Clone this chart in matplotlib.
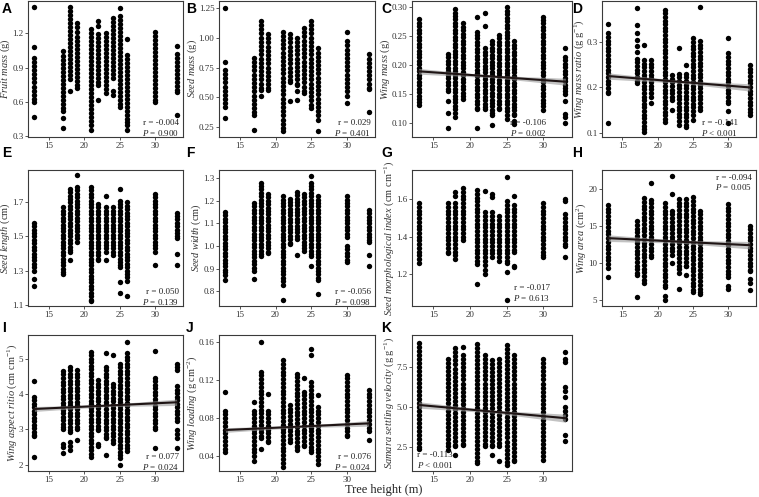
import numpy as np
import matplotlib
matplotlib.use("Agg")
import matplotlib.pyplot as plt

plt.rcParams['font.family'] = ['Liberation Serif', 'DejaVu Serif']
plt.rcParams['mathtext.fontset'] = 'custom'
plt.rcParams['mathtext.rm'] = 'Liberation Serif'
plt.rcParams['mathtext.it'] = 'Liberation Serif:italic'
plt.rcParams['mathtext.bf'] = 'Liberation Serif:bold'

HEIGHTS = [13, 17, 18, 19, 21, 22, 23, 24, 25, 26, 30, 33]

fruit_mass = [
    [1.43, 1.075, 0.98, 0.945, 0.91, 0.875, 0.84, 0.805, 0.77, 0.735, 0.70, 0.665, 0.63, 0.60, 0.47],
    [1.04, 1.005, 0.97, 0.935, 0.90, 0.865, 0.83, 0.795, 0.76, 0.725, 0.69, 0.655, 0.62, 0.585, 0.55, 0.52, 0.46, 0.37],
    [1.43, 1.395, 1.36, 1.325, 1.29, 1.255, 1.22, 1.185, 1.15, 1.115, 1.08, 1.045, 1.01, 0.975, 0.94, 0.905, 0.87, 0.835, 0.80, 0.70],
    [1.29, 1.25, 1.21, 1.17, 1.135, 1.10, 1.065, 1.03, 0.995, 0.96, 0.925, 0.89, 0.855, 0.82, 0.785, 0.75, 0.72],
    [1.24, 1.205, 1.17, 1.135, 1.10, 1.065, 1.03, 0.995, 0.96, 0.925, 0.89, 0.855, 0.82, 0.785, 0.75, 0.715, 0.68, 0.645, 0.61, 0.575, 0.54, 0.505, 0.47, 0.435, 0.40, 0.355],
    [1.31, 1.26, 1.19, 1.155, 1.12, 1.085, 1.05, 1.015, 0.98, 0.945, 0.91, 0.875, 0.84, 0.805, 0.77, 0.75, 0.62],
    [1.20, 1.165, 1.13, 1.095, 1.06, 1.025, 0.99, 0.955, 0.92, 0.885, 0.85, 0.815, 0.78, 0.745, 0.71, 0.68],
    [1.33, 1.295, 1.26, 1.225, 1.19, 1.155, 1.12, 1.085, 1.05, 1.015, 0.98, 0.945, 0.91, 0.875, 0.84, 0.81, 0.70, 0.665],
    [1.42, 1.35, 1.315, 1.28, 1.245, 1.21, 1.175, 1.14, 1.105, 1.07, 1.035, 1.00, 0.965, 0.93, 0.895, 0.86, 0.825, 0.79, 0.755, 0.72, 0.685, 0.65, 0.615, 0.58, 0.56],
    [1.15, 1.01, 0.975, 0.94, 0.905, 0.87, 0.835, 0.80, 0.765, 0.73, 0.695, 0.66, 0.625, 0.59, 0.555, 0.52, 0.485, 0.45, 0.43, 0.40, 0.355],
    [1.21, 1.175, 1.14, 1.105, 1.07, 1.035, 1.00, 0.965, 0.93, 0.895, 0.86, 0.825, 0.79, 0.755, 0.72, 0.685, 0.65, 0.615, 0.60],
    [1.09, 1.02, 0.985, 0.95, 0.915, 0.88, 0.845, 0.81, 0.775, 0.74, 0.705, 0.69, 0.49],
]

seed_mass = [
    [1.25, 0.80, 0.73, 0.695, 0.66, 0.625, 0.59, 0.555, 0.52, 0.485, 0.45, 0.42, 0.33],
    [0.83, 0.795, 0.76, 0.725, 0.69, 0.655, 0.62, 0.585, 0.55, 0.515, 0.48, 0.445, 0.41, 0.375, 0.35, 0.23],
    [1.14, 1.105, 1.07, 1.035, 1.00, 0.965, 0.93, 0.895, 0.86, 0.825, 0.79, 0.755, 0.72, 0.685, 0.65, 0.615, 0.58, 0.56, 0.51],
    [1.03, 0.995, 0.96, 0.925, 0.89, 0.855, 0.82, 0.785, 0.75, 0.715, 0.68, 0.645, 0.61, 0.575, 0.56],
    [1.05, 1.015, 0.98, 0.945, 0.91, 0.875, 0.84, 0.805, 0.77, 0.735, 0.70, 0.665, 0.63, 0.595, 0.56, 0.525, 0.49, 0.455, 0.42, 0.385, 0.35, 0.315, 0.28, 0.245, 0.22],
    [1.03, 0.995, 0.96, 0.925, 0.89, 0.855, 0.82, 0.785, 0.75, 0.715, 0.68, 0.645, 0.63, 0.47],
    [1.00, 0.965, 0.93, 0.895, 0.86, 0.825, 0.79, 0.755, 0.72, 0.685, 0.65, 0.615, 0.60, 0.555, 0.48],
    [1.08, 1.045, 1.01, 0.975, 0.94, 0.905, 0.87, 0.835, 0.80, 0.765, 0.73, 0.695, 0.66, 0.625, 0.59, 0.555, 0.54],
    [1.14, 1.105, 1.07, 1.035, 1.00, 0.965, 0.93, 0.895, 0.86, 0.825, 0.79, 0.755, 0.72, 0.685, 0.65, 0.615, 0.58, 0.545, 0.51, 0.475, 0.44, 0.41],
    [0.91, 0.875, 0.84, 0.805, 0.77, 0.735, 0.70, 0.665, 0.63, 0.595, 0.56, 0.525, 0.49, 0.455, 0.42, 0.385, 0.35, 0.315, 0.22],
    [1.05, 0.97, 0.935, 0.90, 0.865, 0.83, 0.795, 0.76, 0.725, 0.69, 0.655, 0.62, 0.585, 0.55, 0.515, 0.45],
    [0.86, 0.825, 0.79, 0.755, 0.72, 0.685, 0.65, 0.615, 0.58, 0.57, 0.38],
]

wing_mass = [
    [0.279, 0.273, 0.267, 0.261, 0.255, 0.249, 0.243, 0.237, 0.231, 0.225, 0.219, 0.213, 0.207, 0.201, 0.195, 0.189, 0.183, 0.177, 0.171, 0.165, 0.159, 0.153, 0.147, 0.141, 0.135, 0.131],
    [0.219, 0.213, 0.207, 0.201, 0.195, 0.189, 0.183, 0.177, 0.171, 0.165, 0.159, 0.155, 0.137, 0.117, 0.090],
    [0.297, 0.291, 0.285, 0.279, 0.273, 0.267, 0.261, 0.255, 0.249, 0.243, 0.237, 0.231, 0.225, 0.219, 0.213, 0.207, 0.201, 0.195, 0.189, 0.183, 0.177, 0.171, 0.165, 0.159, 0.153, 0.147, 0.141, 0.135, 0.129, 0.123, 0.117, 0.110],
    [0.272, 0.266, 0.260, 0.254, 0.248, 0.242, 0.236, 0.230, 0.224, 0.218, 0.212, 0.206, 0.200, 0.194, 0.188, 0.182, 0.176, 0.170, 0.164, 0.158, 0.152, 0.146, 0.141],
    [0.284, 0.258, 0.252, 0.246, 0.240, 0.234, 0.228, 0.222, 0.216, 0.210, 0.204, 0.198, 0.192, 0.186, 0.180, 0.174, 0.168, 0.162, 0.156, 0.150, 0.144, 0.138, 0.132, 0.126, 0.124, 0.090],
    [0.290, 0.267, 0.229, 0.223, 0.217, 0.211, 0.205, 0.199, 0.193, 0.187, 0.181, 0.175, 0.169, 0.163, 0.157, 0.151, 0.145, 0.139, 0.133, 0.127, 0.124],
    [0.242, 0.236, 0.230, 0.224, 0.218, 0.212, 0.206, 0.200, 0.194, 0.188, 0.182, 0.176, 0.170, 0.164, 0.158, 0.152, 0.146, 0.140, 0.134, 0.128, 0.122, 0.116, 0.113, 0.096],
    [0.252, 0.246, 0.240, 0.234, 0.228, 0.222, 0.216, 0.210, 0.204, 0.198, 0.192, 0.186, 0.180, 0.174, 0.168, 0.162, 0.156, 0.150, 0.144, 0.138, 0.132, 0.126, 0.124],
    [0.300, 0.294, 0.288, 0.282, 0.276, 0.270, 0.264, 0.258, 0.252, 0.246, 0.240, 0.234, 0.228, 0.222, 0.216, 0.210, 0.204, 0.198, 0.192, 0.186, 0.180, 0.174, 0.168, 0.162, 0.156, 0.150, 0.144, 0.138, 0.132, 0.126, 0.120, 0.114, 0.107],
    [0.241, 0.235, 0.229, 0.223, 0.217, 0.211, 0.205, 0.199, 0.193, 0.187, 0.181, 0.175, 0.169, 0.163, 0.157, 0.151, 0.145, 0.139, 0.133, 0.127, 0.121, 0.115, 0.113, 0.103, 0.097],
    [0.284, 0.278, 0.272, 0.266, 0.260, 0.254, 0.248, 0.242, 0.236, 0.230, 0.224, 0.218, 0.212, 0.206, 0.200, 0.194, 0.188, 0.182, 0.176, 0.170, 0.164, 0.158, 0.152, 0.146, 0.140, 0.134, 0.128, 0.122],
    [0.229, 0.214, 0.208, 0.202, 0.196, 0.190, 0.184, 0.178, 0.172, 0.166, 0.160, 0.154, 0.150, 0.138, 0.115, 0.110, 0.100],
]

wing_mass_ratio = [
    [0.340, 0.319, 0.311, 0.303, 0.295, 0.287, 0.279, 0.271, 0.263, 0.255, 0.247, 0.239, 0.231, 0.223, 0.215, 0.207, 0.199, 0.191, 0.187, 0.122],
    [0.375, 0.338, 0.319, 0.305, 0.291, 0.277, 0.263, 0.255, 0.247, 0.239, 0.231, 0.223, 0.215, 0.209],
    [0.293, 0.260, 0.252, 0.244, 0.236, 0.228, 0.220, 0.212, 0.204, 0.196, 0.188, 0.180, 0.172, 0.164, 0.156, 0.148, 0.140, 0.132, 0.124, 0.116, 0.108, 0.103],
    [0.260, 0.252, 0.244, 0.236, 0.228, 0.220, 0.212, 0.204, 0.196, 0.188, 0.180, 0.165],
    [0.371, 0.363, 0.355, 0.347, 0.339, 0.331, 0.323, 0.315, 0.307, 0.299, 0.291, 0.283, 0.275, 0.267, 0.259, 0.251, 0.243, 0.235, 0.227, 0.219, 0.211, 0.203, 0.195, 0.187, 0.179, 0.171, 0.163, 0.155, 0.147, 0.139, 0.131, 0.123],
    [0.227, 0.219, 0.211, 0.203, 0.195, 0.187, 0.179, 0.172, 0.150],
    [0.287, 0.230, 0.222, 0.214, 0.206, 0.198, 0.190, 0.182, 0.174, 0.166, 0.158, 0.150, 0.142, 0.134, 0.126, 0.118],
    [0.249, 0.230, 0.222, 0.214, 0.206, 0.198, 0.190, 0.182, 0.174, 0.166, 0.158, 0.150, 0.142, 0.134, 0.126, 0.118, 0.114],
    [0.308, 0.300, 0.292, 0.284, 0.276, 0.268, 0.260, 0.252, 0.244, 0.236, 0.228, 0.220, 0.212, 0.204, 0.196, 0.188, 0.180, 0.172, 0.164, 0.156, 0.148, 0.140, 0.128],
    [0.376, 0.302, 0.294, 0.286, 0.278, 0.270, 0.262, 0.254, 0.246, 0.238, 0.230, 0.222, 0.214, 0.206, 0.198, 0.190, 0.182, 0.174, 0.166, 0.158, 0.150],
    [0.308, 0.275, 0.267, 0.259, 0.251, 0.243, 0.235, 0.227, 0.219, 0.211, 0.203, 0.195, 0.187, 0.179, 0.171, 0.165, 0.149, 0.122],
    [0.249, 0.241, 0.233, 0.225, 0.217, 0.209, 0.201, 0.193, 0.185, 0.177, 0.169, 0.161, 0.153, 0.145, 0.139],
]

seed_length = [
    [1.58, 1.56, 1.54, 1.52, 1.50, 1.48, 1.46, 1.44, 1.42, 1.40, 1.38, 1.36, 1.34, 1.32, 1.30, 1.25, 1.21],
    [1.67, 1.65, 1.63, 1.61, 1.59, 1.57, 1.55, 1.53, 1.51, 1.49, 1.47, 1.45, 1.43, 1.41, 1.39, 1.37, 1.35, 1.33, 1.31, 1.29, 1.28],
    [1.78, 1.76, 1.74, 1.72, 1.70, 1.68, 1.66, 1.64, 1.62, 1.60, 1.58, 1.56, 1.54, 1.52, 1.50, 1.48, 1.46, 1.44, 1.42, 1.41, 1.36],
    [1.86, 1.79, 1.77, 1.75, 1.73, 1.71, 1.69, 1.67, 1.65, 1.63, 1.61, 1.59, 1.57, 1.55, 1.53, 1.51, 1.49, 1.47],
    [1.79, 1.77, 1.75, 1.73, 1.71, 1.69, 1.67, 1.65, 1.63, 1.61, 1.59, 1.57, 1.55, 1.53, 1.51, 1.49, 1.47, 1.45, 1.43, 1.41, 1.39, 1.37, 1.35, 1.33, 1.31, 1.29, 1.27, 1.25, 1.23, 1.21, 1.19, 1.17, 1.15, 1.13, 1.12],
    [1.69, 1.67, 1.65, 1.63, 1.61, 1.59, 1.57, 1.55, 1.53, 1.51, 1.49, 1.47, 1.45, 1.43, 1.41, 1.39, 1.37, 1.36],
    [1.74, 1.67, 1.65, 1.63, 1.61, 1.59, 1.57, 1.55, 1.53, 1.51, 1.49, 1.47, 1.45, 1.43, 1.41, 1.36],
    [1.67, 1.65, 1.63, 1.61, 1.59, 1.57, 1.55, 1.53, 1.51, 1.49, 1.47, 1.45, 1.43, 1.41, 1.39],
    [1.78, 1.71, 1.69, 1.67, 1.65, 1.63, 1.61, 1.59, 1.57, 1.55, 1.53, 1.51, 1.49, 1.47, 1.45, 1.43, 1.41, 1.39, 1.37, 1.35, 1.33, 1.32, 1.23, 1.17],
    [1.70, 1.68, 1.66, 1.64, 1.62, 1.60, 1.58, 1.56, 1.54, 1.52, 1.50, 1.48, 1.46, 1.44, 1.42, 1.40, 1.38, 1.36, 1.34, 1.32, 1.30, 1.28, 1.26, 1.24, 1.15],
    [1.75, 1.73, 1.71, 1.69, 1.67, 1.65, 1.63, 1.61, 1.59, 1.57, 1.55, 1.53, 1.51, 1.49, 1.47, 1.45, 1.43, 1.41, 1.33],
    [1.64, 1.62, 1.60, 1.58, 1.56, 1.54, 1.52, 1.50, 1.49, 1.40, 1.33],
]

seed_width = [
    [1.15, 1.135, 1.12, 1.105, 1.09, 1.075, 1.06, 1.045, 1.03, 1.015, 1.00, 0.985, 0.97, 0.955, 0.94, 0.925, 0.91, 0.895, 0.885, 0.87, 0.85],
    [1.19, 1.175, 1.16, 1.145, 1.13, 1.115, 1.10, 1.085, 1.07, 1.055, 1.04, 1.025, 1.01, 0.995, 0.98, 0.965, 0.95, 0.935, 0.92, 0.905, 0.89, 0.855],
    [1.28, 1.265, 1.25, 1.235, 1.22, 1.205, 1.19, 1.175, 1.16, 1.145, 1.13, 1.115, 1.10, 1.085, 1.07, 1.055, 1.04, 1.025, 1.01, 0.995, 0.98, 0.965, 0.955],
    [1.23, 1.215, 1.20, 1.185, 1.17, 1.155, 1.14, 1.125, 1.11, 1.095, 1.08, 1.065, 1.05, 1.035, 1.02, 1.005, 0.99, 0.975, 0.97],
    [1.22, 1.205, 1.19, 1.175, 1.16, 1.145, 1.13, 1.115, 1.10, 1.085, 1.07, 1.055, 1.04, 1.025, 1.01, 0.995, 0.98, 0.965, 0.95, 0.935, 0.92, 0.905, 0.89, 0.875, 0.86, 0.845, 0.83, 0.76],
    [1.21, 1.195, 1.18, 1.165, 1.15, 1.135, 1.12, 1.105, 1.09, 1.075, 1.06, 1.045, 1.03, 1.015, 1.01],
    [1.24, 1.225, 1.21, 1.195, 1.18, 1.165, 1.15, 1.135, 1.12, 1.105, 1.09, 1.075, 1.06, 1.045, 1.03, 0.96],
    [1.23, 1.215, 1.20, 1.185, 1.17, 1.155, 1.14, 1.125, 1.11, 1.095, 1.08, 1.065, 1.05, 1.035, 1.02, 1.005, 0.99, 0.98],
    [1.31, 1.28, 1.265, 1.25, 1.235, 1.22, 1.205, 1.19, 1.175, 1.16, 1.145, 1.13, 1.115, 1.10, 1.085, 1.07, 1.055, 1.04, 1.025, 1.01, 0.995, 0.98, 0.965, 0.955, 0.91],
    [1.22, 1.205, 1.19, 1.175, 1.16, 1.145, 1.13, 1.115, 1.10, 1.085, 1.07, 1.055, 1.04, 1.025, 1.01, 0.995, 0.98, 0.965, 0.95, 0.935, 0.92, 0.905, 0.89, 0.875, 0.86, 0.85, 0.79],
    [1.22, 1.205, 1.19, 1.175, 1.16, 1.145, 1.13, 1.115, 1.10, 1.085, 1.07, 1.055, 1.04, 1.00, 0.985, 0.97, 0.955, 0.94, 0.93],
    [1.16, 1.145, 1.13, 1.115, 1.10, 1.085, 1.07, 1.055, 1.04, 1.025, 1.02, 0.96, 0.91],
]

seed_morph_index = [
    [1.58, 1.56, 1.54, 1.52, 1.50, 1.48, 1.46, 1.44, 1.42, 1.40, 1.38, 1.36, 1.34, 1.32, 1.30, 1.28, 1.26],
    [1.58, 1.56, 1.54, 1.52, 1.50, 1.48, 1.46, 1.44, 1.42, 1.40, 1.38, 1.36, 1.34, 1.32, 1.31],
    [1.64, 1.62, 1.58, 1.56, 1.54, 1.52, 1.50, 1.48, 1.46, 1.44, 1.42, 1.40, 1.38, 1.36, 1.34, 1.32, 1.30, 1.28],
    [1.66, 1.64, 1.62, 1.60, 1.58, 1.56, 1.54, 1.52, 1.50, 1.48, 1.46, 1.44, 1.42, 1.40, 1.38],
    [1.65, 1.63, 1.61, 1.59, 1.57, 1.55, 1.53, 1.51, 1.49, 1.47, 1.45, 1.43, 1.41, 1.39, 1.37, 1.35, 1.33, 1.31, 1.29, 1.27, 1.255, 1.145],
    [1.645, 1.53, 1.51, 1.49, 1.47, 1.45, 1.43, 1.41, 1.39, 1.37, 1.35, 1.33, 1.31, 1.29, 1.27, 1.25, 1.22, 1.20],
    [1.63, 1.615, 1.53, 1.51, 1.49, 1.47, 1.45, 1.43, 1.41, 1.39, 1.37, 1.35, 1.33, 1.31, 1.29],
    [1.51, 1.49, 1.47, 1.45, 1.43, 1.41, 1.39, 1.37, 1.35, 1.33, 1.31, 1.29, 1.27],
    [1.72, 1.59, 1.57, 1.55, 1.53, 1.51, 1.49, 1.47, 1.45, 1.43, 1.41, 1.39, 1.37, 1.35, 1.33, 1.31, 1.29, 1.27, 1.26, 1.21, 1.06],
    [1.62, 1.57, 1.55, 1.53, 1.51, 1.49, 1.47, 1.45, 1.43, 1.41, 1.39, 1.37, 1.35, 1.33, 1.32, 1.245, 1.235],
    [1.58, 1.56, 1.54, 1.52, 1.50, 1.48, 1.46, 1.44, 1.42, 1.40, 1.38, 1.36, 1.34, 1.32, 1.30, 1.29],
    [1.60, 1.59, 1.52, 1.50, 1.48, 1.46, 1.44, 1.42, 1.40, 1.38, 1.36, 1.35, 1.29],
]

wing_area = [
    [17.8, 17.3, 16.8, 16.3, 15.8, 15.3, 14.8, 14.3, 13.8, 13.3, 12.8, 12.3, 11.8, 11.3, 10.8, 10.3, 9.8, 9.3, 8.0],
    [15.6, 15.1, 14.6, 14.1, 13.6, 13.1, 12.6, 12.1, 11.6, 11.1, 10.6, 10.1, 9.6, 9.1, 8.6, 8.3, 5.3],
    [18.7, 18.2, 17.7, 17.2, 16.7, 16.2, 15.7, 15.2, 14.7, 14.2, 13.7, 13.2, 12.7, 12.2, 11.7, 11.2, 10.7, 10.2, 9.7, 9.2, 8.7, 8.2, 7.7, 7.3],
    [20.8, 18.5, 18.0, 17.5, 17.0, 16.5, 16.0, 15.5, 15.0, 14.5, 14.0, 13.5, 13.0, 12.5, 12.0, 11.5, 11.0, 10.7],
    [18.0, 17.5, 17.0, 16.5, 16.0, 15.5, 15.0, 14.5, 14.0, 13.5, 13.0, 12.5, 12.0, 11.5, 11.0, 10.5, 10.0, 9.5, 9.0, 8.5, 8.0, 7.5, 7.0, 6.7, 5.5, 5.0],
    [21.7, 19.2, 17.0, 16.5, 16.0, 15.5, 15.0, 14.5, 14.0, 13.5, 13.0, 12.5, 12.0, 11.5, 11.0, 9.9],
    [18.6, 18.1, 17.6, 17.1, 16.6, 16.1, 15.6, 15.1, 14.6, 14.1, 13.6, 13.1, 12.6, 12.1, 11.6, 11.1, 10.6, 10.1, 9.6, 9.1, 8.6, 6.4],
    [18.6, 18.1, 17.6, 17.1, 16.6, 16.1, 15.6, 15.1, 14.6, 14.1, 13.6, 13.1, 12.6, 12.1, 11.6, 11.1, 10.6, 10.1, 9.6, 9.5, 8.3],
    [18.8, 18.3, 17.8, 17.3, 16.8, 16.3, 15.8, 15.3, 14.8, 14.3, 13.8, 13.3, 12.8, 12.3, 11.8, 11.3, 10.8, 10.3, 9.8, 9.3, 8.8, 8.3, 7.8, 7.3, 6.8, 6.3, 6.0],
    [17.0, 16.5, 16.0, 15.5, 15.0, 14.5, 14.0, 13.5, 13.0, 12.5, 12.0, 11.5, 11.0, 10.5, 10.0, 9.5, 9.0, 8.5, 8.0, 7.5, 7.0, 6.5, 6.0, 5.7],
    [17.9, 17.4, 16.9, 16.4, 15.9, 15.4, 14.9, 14.4, 13.9, 13.4, 12.9, 12.4, 11.9, 11.4, 10.9, 10.4, 9.9, 9.4, 8.9, 8.4, 8.1, 6.8, 6.5],
    [15.0, 14.5, 14.0, 13.5, 13.0, 12.5, 12.0, 11.5, 11.0, 10.5, 10.0, 9.5, 9.0, 8.8, 7.8, 7.3, 6.3],
]

wing_aspect_ratio = [
    [4.38, 3.93, 3.83, 3.73, 3.63, 3.53, 3.43, 3.33, 3.23, 3.13, 3.03, 2.93, 2.83, 2.80, 2.21],
    [4.66, 4.56, 4.46, 4.36, 4.26, 4.16, 4.06, 3.96, 3.86, 3.76, 3.66, 3.56, 3.46, 3.36, 3.26, 3.16, 3.06, 3.02, 2.60, 2.50, 2.33],
    [4.78, 4.68, 4.58, 4.48, 4.38, 4.28, 4.18, 4.08, 3.98, 3.88, 3.78, 3.68, 3.58, 3.48, 3.38, 3.28, 3.18, 3.08, 2.98, 2.92, 2.63, 2.52, 2.42],
    [4.68, 4.58, 4.48, 4.38, 4.28, 4.18, 4.08, 3.98, 3.88, 3.78, 3.68, 3.58, 3.48, 3.38, 3.28, 3.18, 3.08, 3.00, 2.70],
    [5.21, 5.11, 5.01, 4.91, 4.81, 4.71, 4.61, 4.51, 4.41, 4.31, 4.21, 4.11, 4.01, 3.91, 3.81, 3.71, 3.61, 3.51, 3.41, 3.31, 3.21, 3.11, 3.01, 2.91, 2.81, 2.71, 2.61, 2.51, 2.41, 2.31, 2.22],
    [4.40, 4.30, 4.20, 4.10, 4.00, 3.90, 3.80, 3.70, 3.60, 3.50, 3.40, 3.30, 3.20, 3.10, 3.00, 2.97, 2.60, 2.52],
    [5.16, 4.78, 4.68, 4.58, 4.48, 4.38, 4.28, 4.18, 4.08, 3.98, 3.88, 3.78, 3.68, 3.58, 3.48, 3.38, 3.28, 3.18, 3.08, 2.98, 2.88, 2.78, 2.75, 2.28],
    [5.12, 4.30, 4.20, 4.10, 4.00, 3.90, 3.80, 3.70, 3.60, 3.50, 3.40, 3.30, 3.20, 3.10, 3.00, 2.90, 2.80, 2.70, 2.62],
    [4.87, 4.77, 4.67, 4.57, 4.47, 4.37, 4.27, 4.17, 4.07, 3.97, 3.87, 3.77, 3.67, 3.57, 3.47, 3.37, 3.27, 3.17, 3.07, 2.97, 2.87, 2.77, 2.67, 2.57, 2.47, 2.37, 2.27, 2.20, 2.00],
    [5.49, 5.16, 5.06, 4.96, 4.86, 4.76, 4.66, 4.56, 4.46, 4.36, 4.26, 4.16, 4.06, 3.96, 3.86, 3.76, 3.66, 3.56, 3.46, 3.36, 3.26, 3.16, 3.06, 2.96, 2.86, 2.76, 2.66, 2.56, 2.48, 2.38],
    [5.24, 4.47, 4.37, 4.27, 4.17, 4.07, 3.97, 3.87, 3.77, 3.67, 3.57, 3.47, 3.37, 3.27, 3.17, 3.07, 3.02, 2.48],
    [4.87, 4.77, 4.70, 4.23, 4.13, 4.03, 3.93, 3.83, 3.73, 3.63, 3.53, 3.43, 3.33, 3.24, 2.98, 2.88, 2.75, 2.48],
]

wing_loading = [
    [0.108, 0.088, 0.084, 0.080, 0.076, 0.072, 0.068, 0.064, 0.060, 0.056, 0.052, 0.048, 0.044],
    [0.097, 0.088, 0.084, 0.080, 0.076, 0.072, 0.068, 0.064, 0.060, 0.056, 0.052, 0.048, 0.044, 0.040, 0.035],
    [0.160, 0.129, 0.125, 0.121, 0.117, 0.113, 0.109, 0.105, 0.101, 0.097, 0.093, 0.089, 0.085, 0.081, 0.077, 0.073, 0.069, 0.065, 0.061, 0.059, 0.0475],
    [0.105, 0.088, 0.084, 0.080, 0.076, 0.072, 0.068, 0.064, 0.060, 0.056, 0.055],
    [0.141, 0.137, 0.133, 0.129, 0.125, 0.121, 0.117, 0.113, 0.109, 0.105, 0.101, 0.097, 0.093, 0.089, 0.085, 0.081, 0.077, 0.073, 0.069, 0.065, 0.061, 0.057, 0.053, 0.049, 0.045, 0.041, 0.037, 0.033, 0.029],
    [0.094, 0.090, 0.086, 0.082, 0.078, 0.074, 0.070, 0.066, 0.062, 0.058, 0.055],
    [0.127, 0.123, 0.119, 0.115, 0.111, 0.107, 0.103, 0.099, 0.095, 0.091, 0.087, 0.083, 0.079, 0.075, 0.071, 0.067, 0.063, 0.059, 0.055, 0.051, 0.050, 0.046],
    [0.122, 0.108, 0.104, 0.100, 0.096, 0.092, 0.088, 0.084, 0.080, 0.076, 0.072, 0.068, 0.064, 0.060, 0.056, 0.052, 0.051],
    [0.153, 0.147, 0.118, 0.114, 0.110, 0.106, 0.102, 0.098, 0.094, 0.090, 0.086, 0.082, 0.078, 0.074, 0.070, 0.066, 0.062, 0.058, 0.054, 0.050, 0.046, 0.044],
    [0.104, 0.092, 0.088, 0.084, 0.080, 0.076, 0.072, 0.068, 0.064, 0.060, 0.056, 0.052, 0.048, 0.044, 0.040, 0.036, 0.032],
    [0.126, 0.122, 0.118, 0.114, 0.110, 0.106, 0.102, 0.098, 0.094, 0.090, 0.086, 0.082, 0.078, 0.074, 0.070, 0.066, 0.062, 0.061],
    [0.110, 0.106, 0.102, 0.098, 0.094, 0.090, 0.086, 0.082, 0.078, 0.074, 0.070, 0.066, 0.057],
]

settling_velocity = [
    [8.98, 8.73, 8.48, 8.23, 7.98, 7.73, 7.48, 7.23, 6.98, 6.73, 6.48, 6.23, 5.98, 5.73, 5.48, 5.23, 4.98, 4.73, 4.48, 4.23, 3.98, 3.73, 3.48, 3.23, 2.98, 2.73, 2.48, 2.36],
    [8.00, 7.75, 7.50, 7.25, 7.00, 6.75, 6.50, 6.25, 6.00, 5.75, 5.50, 5.25, 5.00, 4.75, 4.50, 4.25, 4.00, 3.75, 3.50, 3.25, 3.00, 2.75, 2.56, 2.30],
    [8.63, 8.38, 8.13, 7.88, 7.63, 7.38, 7.13, 6.88, 6.63, 6.38, 6.13, 5.88, 5.63, 5.38, 5.13, 4.88, 4.63, 4.38, 4.13, 3.88, 3.63, 3.38, 3.13, 2.88, 2.63, 2.56, 2.04],
    [8.70, 8.20, 7.95, 7.70, 7.45, 7.20, 6.95, 6.70, 6.45, 6.20, 5.95, 5.70, 5.45, 5.20, 4.95, 4.70, 4.45, 4.20, 3.95, 3.70, 3.45, 3.20, 2.95, 2.70, 2.66],
    [8.90, 8.65, 8.40, 8.15, 7.90, 7.65, 7.40, 7.15, 6.90, 6.65, 6.40, 6.15, 5.90, 5.65, 5.40, 5.15, 4.90, 4.65, 4.40, 4.15, 3.90, 3.65, 3.40, 3.15, 2.90, 2.65, 2.40, 2.15, 1.90, 1.65, 1.50],
    [8.20, 7.95, 7.70, 7.45, 7.20, 6.95, 6.70, 6.45, 6.20, 5.95, 5.70, 5.45, 5.20, 4.95, 4.70, 4.45, 4.20, 3.95, 3.70, 3.45, 3.20, 2.95, 2.70, 2.56],
    [7.90, 7.65, 7.40, 7.15, 6.90, 6.65, 6.40, 6.15, 5.90, 5.65, 5.40, 5.15, 4.90, 4.65, 4.40, 4.15, 3.90, 3.65, 3.40, 3.15, 2.90, 2.65, 2.56, 2.04],
    [8.00, 7.75, 7.50, 7.25, 7.00, 6.75, 6.50, 6.25, 6.00, 5.75, 5.50, 5.25, 5.00, 4.75, 4.50, 4.25, 4.00, 3.75, 3.50, 3.25, 3.00, 2.75, 2.56, 1.63],
    [8.85, 8.60, 8.35, 8.10, 7.85, 7.60, 7.35, 7.10, 6.85, 6.60, 6.35, 6.10, 5.85, 5.60, 5.35, 5.10, 4.85, 4.60, 4.35, 4.10, 3.85, 3.60, 3.35, 3.10, 2.85, 2.60, 2.35, 2.10, 1.85, 1.60, 1.40],
    [8.20, 7.95, 7.70, 7.45, 7.20, 6.95, 6.70, 6.45, 6.20, 5.95, 5.70, 5.45, 5.20, 4.95, 4.70, 4.45, 4.20, 3.95, 3.70, 3.45, 3.20, 2.95, 2.70, 2.45, 2.20, 1.95, 1.70, 1.63],
    [7.95, 7.70, 7.45, 7.20, 6.95, 6.70, 6.45, 6.20, 5.95, 5.70, 5.45, 5.20, 4.95, 4.70, 4.45, 4.20, 3.95, 3.70, 3.45, 3.20, 2.95, 2.70, 2.45, 2.20, 1.95, 1.73],
    [8.42, 7.95, 7.80, 6.25, 6.00, 5.60, 5.00, 4.75, 4.50, 4.25, 3.28, 2.86],
]

PANEL_LETTERS = ['A', 'B', 'C', 'D', 'E', 'F', 'G', 'H', 'I', 'J', 'K']
YLABELS = [
    r'$\mathit{Fruit\ mass}$ (g)',
    r'$\mathit{Seed\ mass}$ (g)',
    r'$\mathit{Wing\ mass}$ (g)',
    r'$\mathit{Wing\ mass\ ratio}$ (g g$^{-1}$)',
    r'$\mathit{Seed\ length}$ (cm)',
    r'$\mathit{Seed\ width}$ (cm)',
    r'$\mathit{Seed\ morphological\ index}$ (cm cm$^{-1}$)',
    r'$\mathit{Wing\ area}$ (cm$^{2}$)',
    r'$\mathit{Wing\ aspect\ ritio}$ (cm cm$^{-1}$)',
    r'$\mathit{Wing\ loading}$ (g cm$^{-2}$)',
    r'$\mathit{Samara\ settling\ velocity}$ (g g$^{-1}$)',
]
YLIMS = [(0.295, 1.48), (0.17, 1.305), (0.075, 0.311), (0.091, 0.39), (1.092, 1.89),
         (0.735, 1.336), (1.028, 1.758), (4.14, 22.5), (1.82, 5.68), (0.0243, 0.1677), (1.02, 9.46)]
YTICKS = [[0.3, 0.6, 0.9, 1.2], [0.25, 0.50, 0.75, 1.00, 1.25], [0.10, 0.15, 0.20, 0.25, 0.30],
          [0.1, 0.2, 0.3], [1.1, 1.3, 1.5, 1.7], [0.8, 0.9, 1.0, 1.1, 1.2, 1.3], [1.2, 1.4, 1.6],
          [5, 10, 15, 20], [2, 3, 4, 5], [0.04, 0.08, 0.12, 0.16], [2.5, 5.0, 7.5]]
YFMT = ['%.1f', '%.2f', '%.2f', '%.1f', '%.1f', '%.1f', '%.1f', '%d', '%d', '%.2f', '%.1f']
R_VALUES = ['-0.004', '0.029', '-0.106', '-0.141', '0.050', '-0.056', '-0.017', '-0.094', '0.077', '0.076', '-0.113']
P_TEXT = ['= 0.900', '= 0.401', '= 0.002', '< 0.001', '= 0.139', '= 0.098', '= 0.613', '= 0.005', '= 0.024', '= 0.024', '< 0.001']
XTICKS = [15, 20, 25, 30]

FIT_X = [13, 33]
FITS = {2: [0.189, 0.171], 3: [0.225, 0.200], 7: [13.3, 12.35],
        8: [3.58, 3.77], 9: [0.0675, 0.0745], 10: [5.12, 4.30]}
BANDS = {2: [0.005, 0.002, 0.006], 3: [0.007, 0.003, 0.008], 7: [0.45, 0.2, 0.5],
         8: [0.07, 0.03, 0.09], 9: [0.0025, 0.001, 0.003], 10: [0.2, 0.08, 0.25]}

SERIES = [fruit_mass, seed_mass, wing_mass, wing_mass_ratio, seed_length, seed_width,
          seed_morph_index, wing_area, wing_aspect_ratio, wing_loading, settling_velocity]

# ---------------- layout ----------------
W, H = 759, 497
fig = plt.figure(figsize=(W / 100, H / 100), dpi=100)
col_left = [28, 219, 412, 602]
col_w = [155, 156, 160, 154]
row_top = [1, 170, 335]
row_h = 136
letter_x = [2, 186, 381, 572]
letter_y = [2, 146, 321]
STAT_POS = {i: (0.975, 0.10, 'right') for i in range(11)}
STAT_POS[2] = (0.84, 0.10, 'right')
STAT_POS[3] = (0.88, 0.10, 'right')
STAT_POS[6] = (0.86, 0.13, 'right')
STAT_POS[7] = (0.975, 0.94, 'right')
STAT_POS[10] = (0.03, 0.115, 'left')

spine_col = '#3a3a3a'
for i, data in enumerate(SERIES):
    r, c = divmod(i, 4)
    left = col_left[c] / W
    bottom = 1 - (row_top[r] + row_h) / H
    ax = fig.add_axes([left, bottom, col_w[c] / W, row_h / H])
    for h, vals in zip(HEIGHTS, data):
        ax.scatter([h] * len(vals), vals, s=15, color='black', linewidths=0, zorder=2)
    if i in FITS:
        y0, y1 = FITS[i]
        b = BANDS[i]
        xs = np.array([FIT_X[0], (FIT_X[0] + FIT_X[1]) / 2, FIT_X[1]])
        ys = np.array([y0, (y0 + y1) / 2, y1])
        ax.fill_between(xs, ys - np.array(b), ys + np.array(b), color='#9a9a9a', alpha=0.6,
                        linewidth=0, zorder=3)
        ax.plot(FIT_X, [y0, y1], color='#1e1414', lw=1.5, zorder=4)
    ax.set_xlim(12.1, 33.9)
    ax.set_ylim(*YLIMS[i])
    ax.set_xticks(XTICKS)
    ax.set_xticklabels([str(t) for t in XTICKS])
    ax.set_yticks(YTICKS[i])
    ax.set_yticklabels([YFMT[i] % t for t in YTICKS[i]])
    ax.tick_params(direction='out', length=2.5, width=0.6, color=spine_col,
                   labelsize=6.5, pad=0.8, labelcolor='#333333')
    for s in ax.spines.values():
        s.set_linewidth(0.8)
        s.set_color(spine_col)
    ax.set_ylabel(YLABELS[i], fontsize=7.5, labelpad=0, color='#333333')
    sx, sy, ha = STAT_POS[i]
    ax.text(sx, sy, 'r = ' + R_VALUES[i], transform=ax.transAxes, ha=ha, va='center',
            fontsize=6.5, color='#222222', zorder=5)
    ax.text(sx, sy - 0.068, r'$\mathit{P}$ ' + P_TEXT[i], transform=ax.transAxes, ha=ha,
            va='center', fontsize=6.5, color='#222222', zorder=5)
    fig.text(letter_x[c] / W, 1 - letter_y[r] / H, PANEL_LETTERS[i], ha='left', va='top',
             fontsize=10, fontweight='bold', family='Liberation Sans')

fig.text(384 / W, 1 - 490 / H, 'Tree height (m)', ha='center', va='center', fontsize=9,
         color='#222222')

fig.savefig('out.png', dpi=100)
